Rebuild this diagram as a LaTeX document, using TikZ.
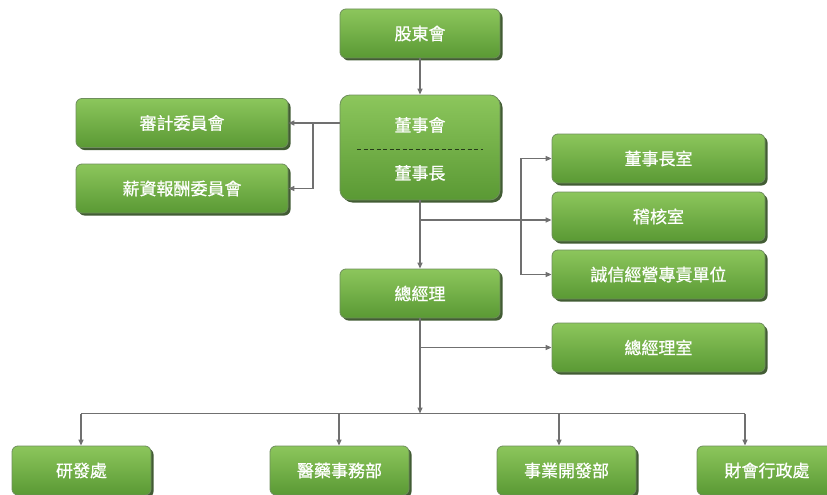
\documentclass[tikz,border=0pt]{standalone}
\usepackage{fontspec}
\newfontfamily\cjk[FakeBold=0.7]{Noto Sans CJK TC}
\usetikzlibrary{arrows.meta,shadows,calc}
\definecolor{gtop}{HTML}{8CC65C}
\definecolor{gbot}{HTML}{5A9934}
\definecolor{gedge}{HTML}{6E8E5C}
\definecolor{gshadow}{HTML}{2E4A1E}
\definecolor{conncol}{HTML}{707070}
\begin{document}
\begin{tikzpicture}[x=1pt,y=-1pt,
  box/.style={rectangle, rounded corners=6pt, draw=gedge, line width=0.8pt,
    top color=gtop, bottom color=gbot, text=white, font=\cjk\fontsize{17}{20}\selectfont,
    drop shadow={shadow xshift=2.5pt, shadow yshift=-2.5pt, fill=gshadow, opacity=0.9},
    minimum height=49pt, inner sep=0pt},
  lbl/.style={text=white, font=\cjk\fontsize{17}{20}\selectfont, inner sep=0pt},
  conn/.style={draw=conncol, line width=1.3pt, -{Triangle[length=6pt,width=5pt]}},
  line/.style={draw=conncol, line width=1.3pt}]
\useasboundingbox (0,0) rectangle (827,495);
% nodes
\node[box, minimum width=160pt] (gd) at (420,33.5) {股東會};
\node[box, rounded corners=10pt, minimum width=160pt, minimum height=105pt] (bd) at (420,147.5) {};
\node[lbl] (bd1) at (420,125) {董事會};
\node[lbl] (bd2) at (420,173) {董事長};
\draw[draw=gshadow!80!black, line width=1pt, dash pattern=on 4pt off 2.5pt] (357,149) -- (483,149);
\node[box, minimum width=212pt] (sj) at (182,123) {審計委員會};
\node[box, minimum width=212pt] (xc) at (182,188.5) {薪資報酬委員會};
\node[box, minimum width=213pt] (r1) at (658.5,158.5) {董事長室};
\node[box, minimum width=213pt] (r2) at (658.5,216.5) {稽核室};
\node[box, minimum width=213pt] (r3) at (658.5,274.5) {誠信經營專責單位};
\node[box, minimum width=160pt] (gm) at (420,293.5) {總經理};
\node[box, minimum width=213pt] (gmo) at (658.5,347.5) {總經理室};
\node[box, minimum width=139pt] (d1) at (81.5,470.5) {研發處};
\node[box, minimum width=139pt] (d2) at (339.5,470.5) {醫藥事務部};
\node[box, minimum width=139pt] (d3) at (566.5,470.5) {事業開發部};
\node[box, minimum width=140pt] (d4) at (767,470.5) {財會行政處};
% connectors
\draw[conn] (gd.south) -- (bd.north);
\draw[conn] (sj.east -| bd.west) -- (sj.east);
\coordinate (j1) at (313,123);
\draw[conn] (j1) |- (xc.east);
\draw[conn] (bd.south) -- (gm.north);
\coordinate (b1) at (420,220);
\coordinate (b2) at (521,220);
\draw[conn] (b1) -- (b1 -| r2.west);
\draw[conn] (b2) |- (r1.west);
\draw[conn] (b2) |- (r3.west);
\coordinate (g1) at (gm.south |- gmo.west);
\draw[conn] (g1) -- (gmo.west);
\coordinate (bus) at (420,413.5);
\draw[conn] (gm.south) -- (bus);
\coordinate (e1) at (81,413.5);
\coordinate (e2) at (339,413.5);
\coordinate (e3) at (559,413.5);
\coordinate (e4) at (745,413.5);
\draw[line] (e1) -- (e4);
\draw[conn] (e1) -- (e1 |- d1.north);
\draw[conn] (e2) -- (e2 |- d2.north);
\draw[conn] (e3) -- (e3 |- d3.north);
\draw[conn] (e4) -- (e4 |- d4.north);
\end{tikzpicture}
\end{document}
